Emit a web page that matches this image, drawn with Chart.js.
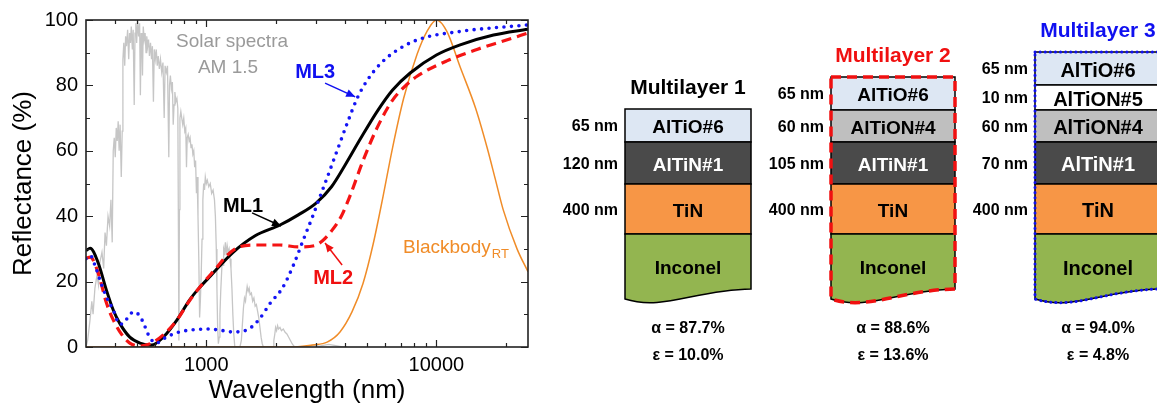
<!DOCTYPE html>
<html>
<head>
<meta charset="utf-8">
<script src="https://cdn.jsdelivr.net/npm/chart.js@4.4.1/dist/chart.umd.min.js"></script>
<style>
html,body{margin:0;padding:0;background:#fff;}
body{width:1157px;height:408px;position:relative;overflow:hidden;font-family:"Liberation Sans",Arial,sans-serif;}
#chartBox{position:absolute;left:0;top:0;width:560px;height:408px;}
#stacks{position:absolute;left:0;top:0;pointer-events:none;}
</style>
</head>
<body>
<div id="chartBox"><canvas id="myChart" width="560" height="408"></canvas></div>
<svg id="stacks" width="1157" height="408" xmlns="http://www.w3.org/2000/svg"></svg>
<script>
// ---- data ----
const solarWl = [300,305,312,318,322,328,335,340,345,352,358,363,368,374,380,385,390,394,398,402,406,410,414,418,422,427,431,434,438,442,446,450,455,460,464,468,472,477,481,486,490,494,498,503,508,513,517,521,525,528,532,537,542,547,551,556,561,566,572,578,583,589,594,600,606,612,618,625,632,640,648,656,662,670,678,687,692,698,705,712,718,724,730,737,745,752,757,760,764,768,775,782,790,798,806,814,820,826,834,842,850,858,866,874,882,890,898,906,912,920,928,935,942,950,958,966,974,982,990,1000,1010,1025,1040,1055,1070,1085,1095,1105,1112,1120,1128,1138,1146,1155,1164,1173,1182,1190,1200,1210,1220,1232,1244,1256,1268,1280,1292,1304,1316,1330,1400,1420,1435,1450,1465,1480,1495,1505,1520,1535,1550,1570,1590,1610,1630,1650,1670,1690,1710,1730,1750,1770,1950,1965,1985,2000,2020,2040,2060,2090,2120,2160,2200,2240,2280,2320,2360,2400,2450,2700,2900,3100,3400,3600,3900,4100];
const solarVal = [0,2,8,14,10,18,22,19,26,29,24,35,31,40,37,45,32,60,64,58,67,63,69,60,68,52,66,88,93,86,95,92,97,88,96,93,98,91,97,74,96,99,93,100,95,99,77,96,93,83,98,94,96,90,95,92,94,89,93,88,92,75,91,88,91,86,89,85,88,84,87,70,86,84,86,58,80,83,79,81,68,74,78,75,76,73,30,2,42,70,72,70,68,70,66,67,55,64,65,63,64,61,62,59,60,55,57,47,52,40,26,9,14,22,33,45,50,48,52,50,51,49,50,47,48,45,40,30,18,6,1,3,10,17,22,27,25,30,29,32,28,31,29,30,27,24,18,10,4,0,0,2,7,12,15,14,17,18.5,17,18,16,16.5,14,15,12.5,13,11,9,6,3,1,0,0,2,4,6,5,6.5,5.5,6,5,5.5,4.5,4,3,2,1,0.3,0,0,0.6,0.3,0.8,0.5,0,0];

const bbWl  = [300,2000,2500,2900,3350,3810,4300,4800,5310,5860,6450,7200,8240,9100,10000,11100,12680,14800,16600,18000,19500,22400,25000];
const bbVal = [0,0,0.1,0.6,1.5,4.6,10.8,19.5,31.5,46,61,76,89.5,96.5,100,96.5,85.6,73,61,51.5,42,30,23];

const ml1Wl = [300,313,339,368,394,420,465,515,578,650,746,842,930,1045,1300,1630,2090,2510,3000,3500,4000,4660,5520,6450,7690,10000,12680,17700,25000];
const ml1R  = [29.5,30.2,25.7,17.4,11.3,7.3,3.0,1.2,0.6,3.0,8.3,14.2,18.0,21.8,28.8,34.0,37.3,40.4,44,49,55.5,63.5,72,78.6,83.8,89.3,92.4,95.4,97.2];

const ml2Wl = [300,313,339,368,394,430,465,515,578,650,746,842,970,1100,1230,1390,1630,2090,2510,2950,3200,3500,3860,4200,4800,5520,6450,7500,8240,11100,15000,20000,25000];
const ml2R  = [27.2,27.5,22.6,13.5,8.3,3.7,1.2,0.3,1.2,3.7,8.3,14,19.6,24,28,30.6,31.2,31.2,30.6,31,32.5,35.5,40,46,57,67,75.5,80.5,82.8,87.5,91,93.8,96];

const ml3Wl = [300,313,330,345,368,394,420,440,465,490,525,567,605,670,763,860,1010,1134,1300,1500,1690,1900,2140,2390,2630,2900,3120,3400,3700,4100,4520,5000,5690,6500,8240,12680,25000];
const ml3R  = [27,28,24.5,20.5,15.3,11.3,7,7.5,10,10.7,8.3,3,1.2,3,4.6,5.2,5.5,5.2,4.6,5.2,8.3,13.5,18,25,32.5,40,46,53,60,68.5,76,81.5,86.5,90,93.9,96.5,98.5];

const xMajor = [1000,10000];
const xMinor = [400,500,600,700,800,900,2000,3000,4000,5000,6000,7000,8000,9000,20000];
const yMajor = [0,20,40,60,80,100];
const yMinor = [10,30,50,70,90];

const stackNames  = ["Multilayer 1","Multilayer 2","Multilayer 3"];
const stackLayers = [
  ["AlTiO#6","AlTiN#1","TiN","Inconel"],
  ["AlTiO#6","AlTiON#4","AlTiN#1","TiN","Inconel"],
  ["AlTiO#6","AlTiON#5","AlTiON#4","AlTiN#1","TiN","Inconel"]
];
const stackThick = [
  ["65 nm","120 nm","400 nm"],
  ["65 nm","60 nm","105 nm","400 nm"],
  ["65 nm","10 nm","60 nm","70 nm","400 nm"]
];
const stackAlpha = ["87.7%","88.6%","94.0%"];
const stackEps   = ["10.0%","13.6%","4.8%"];

// ---- chart ----
const FONT = '"Liberation Sans", Arial, sans-serif';
Chart.defaults.font.family = FONT;
Chart.defaults.color = "#000";

const toPts = (xs, ys) => xs.map((x, i) => ({x: x, y: ys[i]}));

function arrow(ctx, x1, y1, x2, y2, color){
  ctx.strokeStyle = color; ctx.fillStyle = color; ctx.lineWidth = 1.5;
  ctx.beginPath(); ctx.moveTo(x1, y1); ctx.lineTo(x2, y2); ctx.stroke();
  const a = Math.atan2(y2 - y1, x2 - x1), L = 9, W = 4;
  ctx.beginPath();
  ctx.moveTo(x2, y2);
  ctx.lineTo(x2 - L*Math.cos(a) + W*Math.sin(a), y2 - L*Math.sin(a) - W*Math.cos(a));
  ctx.lineTo(x2 - L*Math.cos(a) - W*Math.sin(a), y2 - L*Math.sin(a) + W*Math.cos(a));
  ctx.closePath(); ctx.fill();
}

const frameTicks = {
  id: "frameTicks",
  afterDraw(chart){
    const {ctx, chartArea: a, scales: {x, y}} = chart;
    ctx.save();
    ctx.strokeStyle = "#222";
    ctx.lineWidth = 1.2;
    ctx.beginPath();
    xMajor.concat(xMinor).forEach(v => {
      const px = Math.round(x.getPixelForValue(v)) + 0.5;
      const len = xMajor.includes(v) ? 7 : 4;
      ctx.moveTo(px, a.bottom); ctx.lineTo(px, a.bottom - len);
      ctx.moveTo(px, a.top); ctx.lineTo(px, a.top + len);
    });
    yMajor.concat(yMinor).forEach(v => {
      const py = Math.round(y.getPixelForValue(v)) + 0.5;
      const len = yMajor.includes(v) ? 7 : 4;
      ctx.moveTo(a.left, py); ctx.lineTo(a.left + len, py);
      ctx.moveTo(a.right, py); ctx.lineTo(a.right - len, py);
    });
    ctx.stroke();
    ctx.lineWidth = 1.6;
    ctx.strokeRect(a.left, a.top, a.right - a.left, a.bottom - a.top);

    // labels on the plot
    const X = v => x.getPixelForValue(v), Y = v => y.getPixelForValue(v);
    ctx.textAlign = "center"; ctx.textBaseline = "middle";
    ctx.fillStyle = "#9a9a9a"; ctx.font = "19px " + FONT;
    ctx.fillText("Solar spectra", X(1294), Y(93.3));
    ctx.fillText("AM 1.5", X(1242), Y(85.3));

    ctx.font = "bold 20px " + FONT;
    ctx.fillStyle = "#1010f0"; ctx.fillText("ML3", X(2972), Y(83.8));
    arrow(ctx, X(3281), Y(80.7), X(4436), Y(76.5), "#1010f0");
    ctx.fillStyle = "#000"; ctx.fillText("ML1", X(1445), Y(43.1));
    arrow(ctx, X(1581), Y(41), X(2113), Y(37), "#000");
    ctx.fillStyle = "#f01010"; ctx.fillText("ML2", X(3558), Y(21.1));
    arrow(ctx, X(3891), Y(25.1), X(3281), Y(31.8), "#f01010");

    ctx.fillStyle = "#f08c28"; ctx.textAlign = "left"; ctx.textBaseline = "alphabetic";
    ctx.font = "19px " + FONT;
    const bx = X(7162), by = Y(28.7);
    ctx.fillText("Blackbody", bx, by);
    const bw = ctx.measureText("Blackbody").width;
    ctx.font = "13px " + FONT;
    ctx.fillText("RT", bx + bw + 1, by + 5);
    ctx.restore();
  }
};

const ctx = document.getElementById("myChart").getContext("2d");
const myChart = new Chart(ctx, {
  type: "line",
  data: {
    datasets: [
      {label: "ML3", data: toPts(ml3Wl, ml3R), borderColor: "#1414f5", borderWidth: 3.6,
       borderDash: [0, 7.5], borderCapStyle: "round", cubicInterpolationMode: "monotone"},
      {label: "ML2", data: toPts(ml2Wl, ml2R), borderColor: "#f41414", borderWidth: 3.2,
       borderDash: [10, 6], cubicInterpolationMode: "monotone"},
      {label: "ML1", data: toPts(ml1Wl, ml1R), borderColor: "#000", borderWidth: 3,
       cubicInterpolationMode: "monotone"},
      {label: "Blackbody", data: toPts(bbWl, bbVal), borderColor: "#f08c28", borderWidth: 1.5,
       cubicInterpolationMode: "monotone"},
      {label: "Solar", data: toPts(solarWl, solarVal), borderColor: "#c6c6c6", borderWidth: 1.3,
       tension: 0}
    ]
  },
  options: {
    responsive: false,
    animation: false,
    devicePixelRatio: 1,
    elements: {point: {radius: 0}},
    layout: {padding: {top: 20, right: 32, left: 0, bottom: 0}},
    plugins: {legend: {display: false}, tooltip: {enabled: false}},
    scales: {
      x: {
        type: "logarithmic", min: 300, max: 25000,
        grid: {display: false, drawTicks: false},
        border: {display: false},
        afterBuildTicks: s => { s.ticks = xMajor.concat(xMinor).sort((a, b) => a - b).map(v => ({value: v})); },
        afterFit: s => { s.height = 61; },
        ticks: {autoSkip: false, maxRotation: 0, padding: 6, font: {size: 20},
                callback: v => xMajor.includes(v) ? String(v) : ""},
        title: {display: true, text: "Wavelength (nm)", font: {size: 26}, padding: {top: 0, bottom: 2}}
      },
      y: {
        min: 0, max: 100,
        grid: {display: false, drawTicks: false},
        border: {display: false},
        afterFit: s => { s.width = 86; },
        ticks: {stepSize: 20, padding: 8, font: {size: 20}},
        title: {display: true, text: "Reflectance (%)", font: {size: 26}, padding: {top: 8, bottom: 0}}
      }
    }
  },
  plugins: [frameTicks]
});

// ---- layer stacks (schematic) ----
const layerStyle = {
  "AlTiO#6":  {h: 33, fill: "#dde7f3", ink: "#000"},
  "AlTiON#5": {h: 25, fill: "#ffffff", ink: "#000"},
  "AlTiON#4": {h: 32, fill: "#bfbfbf", ink: "#000"},
  "AlTiN#1":  {h: 42, fill: "#4a4a4a", ink: "#fff"},
  "TiN":      {h: 50, fill: "#f79646", ink: "#000"},
  "Inconel":  {h: 65, fill: "#93b550", ink: "#000"}
};
const stackX = [625, 831, 1035];
const stackW = [126, 124, 126];
const stackFont = [19, 19, 20];
const titleColor = ["#000", "#f01010", "#1010f0"];
const bottomY = 299;

const svgNS = "http://www.w3.org/2000/svg";
const svg = document.getElementById("stacks");
function el(tag, attrs, text){
  const e = document.createElementNS(svgNS, tag);
  for (const k in attrs) e.setAttribute(k, attrs[k]);
  if (text !== undefined) e.textContent = text;
  svg.appendChild(e);
  return e;
}

stackNames.forEach((name, s) => {
  const x0 = stackX[s], w = stackW[s], cx = x0 + w/2;
  const layers = stackLayers[s];
  const total = layers.reduce((t, l) => t + layerStyle[l].h, 0);
  const top = bottomY - total;
  const wave = `C ${x0 + 0.55*w},${bottomY - 9} ${x0 + 0.3*w},${bottomY + 12} ${x0},${bottomY}`;
  let yy = top;
  layers.forEach((l, i) => {
    const st = layerStyle[l];
    if (l === "Inconel") {
      el("path", {d: `M ${x0},${yy} H ${x0 + w} V ${bottomY - 10} ${wave} Z`, fill: st.fill, stroke: "#000", "stroke-width": 1.5});
    } else {
      el("rect", {x: x0, y: yy, width: w, height: st.h, fill: st.fill, stroke: "#000", "stroke-width": 1.5});
      el("text", {x: x0 - 7, y: yy + st.h/2, "text-anchor": "end", "dominant-baseline": "central",
                  "font-size": 16, "font-weight": "bold", "font-family": FONT, fill: "#000"}, stackThick[s][i]);
    }
    el("text", {x: cx, y: yy + st.h/2 + 1, "text-anchor": "middle", "dominant-baseline": "central",
                "font-size": stackFont[s], "font-weight": "bold", "font-family": FONT, fill: st.ink}, l);
    yy += st.h;
  });
  const outline = `M ${x0},${top} H ${x0 + w} V ${bottomY - 10} ${wave} Z`;
  if (s === 1) el("path", {d: outline, fill: "none", stroke: "#f01010", "stroke-width": 3.5, "stroke-dasharray": "10 6"});
  if (s === 2) el("path", {d: outline, fill: "none", stroke: "#1010f0", "stroke-width": 3, "stroke-dasharray": "0.1 5", "stroke-linecap": "round"});
  el("text", {x: cx, y: top - 23, "text-anchor": "middle", "dominant-baseline": "central",
              "font-size": 21, "font-weight": "bold", "font-family": FONT, fill: titleColor[s]}, name);
  el("text", {x: cx, y: 327, "text-anchor": "middle", "dominant-baseline": "central",
              "font-size": 16, "font-weight": "bold", "font-family": FONT, fill: "#000"}, "α = " + stackAlpha[s]);
  el("text", {x: cx, y: 354, "text-anchor": "middle", "dominant-baseline": "central",
              "font-size": 16, "font-weight": "bold", "font-family": FONT, fill: "#000"}, "ε = " + stackEps[s]);
});
</script>
</body>
</html>
